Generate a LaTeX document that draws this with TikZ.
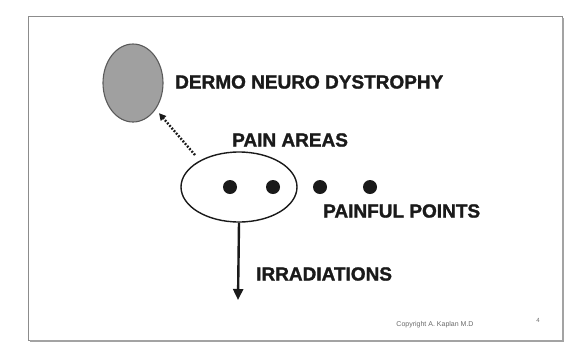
\documentclass[tikz,border=0pt]{standalone}
\usepackage{fontspec}
\setmainfont{Liberation Sans}
\newfontfamily\heavyfont{Liberation Sans Bold}[FakeBold=1.4]
\usepackage{tikz}
\usetikzlibrary{arrows.meta,positioning,shapes.geometric}
\definecolor{Ink}{HTML}{1A1A1A}
\definecolor{Shade}{HTML}{A0A0A0}
\definecolor{ShadeEdge}{HTML}{5A5A5A}
\definecolor{Frame}{HTML}{8C8C8C}
\definecolor{Faint}{HTML}{6A6A6A}
\tikzset{
  label text/.style={anchor=west,inner sep=0pt,font=\fontsize{19}{22}\heavyfont,text=Ink},
  spot/.style={circle,fill=Ink,minimum size=14pt,inner sep=0pt},
}

\begin{document}
\begin{tikzpicture}[x=1pt,y=-1pt]
      \useasboundingbox[fill=white] (0,0) rectangle (586,349);
      % slide frame
      \draw[Frame,line width=0.9pt] (28,16) rectangle (562,340);
      \draw[Frame!80,line width=2pt] (563,18) -- (563,341) -- (30,341);

      \node[ellipse,draw=ShadeEdge,fill=Shade,line width=1.1pt,
            minimum width=60pt,minimum height=78pt,inner sep=0pt] (dystrophy) at (133,83) {};
      \node[label text] (dystrophylabel) at (175,82) {DERMO NEURO DYSTROPHY};

      \node[ellipse,draw=Ink,line width=1.4pt,
            minimum width=116pt,minimum height=70pt,inner sep=0pt] (areas) at (239,187) {};
      \node[label text] (areaslabel) at (232,140) {PAIN AREAS};

      \foreach \x [count=\i] in {230,273,320,370}{
        \node[spot] (pt\i) at (\x,187) {};
      }
      \node[label text] (pointslabel) at (323,211) {PAINFUL POINTS};

      \coordinate (dotstart) at (195,155);
      \draw[Ink,line width=2.4pt,dash pattern=on 1.8pt off 1.6pt,shorten >=5pt,
            -{Triangle[length=7pt,width=7pt]}] (dotstart) -- (dystrophy);

      \coordinate (irrtip) at (238,300);
      \draw[Ink,line width=2.4pt,-{Triangle[length=11pt,width=10pt]}] (areas.south) -- (irrtip);
      \node[label text] (irrlabel) at (256,274) {IRRADIATIONS};

      \node[font=\fontsize{7}{8}\selectfont,text=Faint] (copy) at (435,325) {Copyright A. Kaplan M.D};
      \node[font=\fontsize{6}{7}\selectfont,text=Faint] (page) at (538,320) {4};
    \end{tikzpicture}
\end{document}
